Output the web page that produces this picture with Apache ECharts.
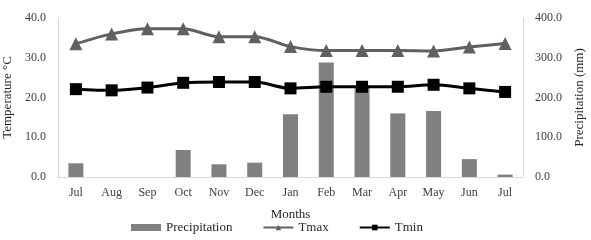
<!DOCTYPE html>
<html><head><meta charset="utf-8">
<script src="https://cdn.jsdelivr.net/npm/echarts@6/dist/echarts.min.js"></script>
<style>html,body{margin:0;padding:0;background:#fff}#c{width:591px;height:240px}</style>
</head><body><div id="c"></div>
<script>
var months = ['Jul','Aug','Sep','Oct','Nov','Dec','Jan','Feb','Mar','Apr','May','Jun','Jul'];
var precipitation = [34.5, 0, 0, 68, 32, 36, 158, 288, 226, 160, 166, 45, 6];
var tmax = [33.5, 36.0, 37.3, 37.3, 35.3, 35.3, 32.8, 31.8, 31.8, 31.8, 31.7, 32.7, 33.6];
var tmin = [22.1, 21.8, 22.5, 23.7, 23.9, 23.9, 22.3, 22.7, 22.7, 22.7, 23.2, 22.3, 21.4];

var font = '"Liberation Serif", "Times New Roman", serif';
var txt = '#404040';
var chart = echarts.init(document.getElementById('c'), null, {renderer:'canvas'});
chart.setOption({
  animation:false,
  textStyle:{fontFamily:font},
  grid:{left:58, right:68, top:18, bottom:63, containLabel:false, outerBoundsMode:'none'},
  xAxis:{type:'category', data:months, boundaryGap:true,
    name:'Months', nameLocation:'middle', nameGap:31,
    nameTextStyle:{fontFamily:font, fontSize:13, color:'#262626'},
    axisLine:{lineStyle:{color:'#d9d9d9'}}, axisTick:{show:false},
    axisLabel:{fontFamily:font, fontSize:12, color:txt, margin:10, interval:0}},
  yAxis:[
    {type:'value', min:0, max:40, interval:10, position:'left',
     name:'Temperature °C', nameLocation:'middle', nameGap:40, nameRotate:90,
     nameTextStyle:{fontFamily:font, fontSize:13, color:'#262626'},
     axisLine:{show:true, lineStyle:{color:'#d9d9d9'}}, axisTick:{show:false}, splitLine:{show:false},
     axisLabel:{fontFamily:font, fontSize:12, color:txt, margin:12, formatter:function(v){return v.toFixed(1);}}},
    {type:'value', min:0, max:400, interval:100, position:'right',
     name:'Precipitation (mm)', nameLocation:'middle', nameGap:48, nameRotate:90,
     nameTextStyle:{fontFamily:font, fontSize:13, color:'#262626'},
     axisLine:{show:true, lineStyle:{color:'#d9d9d9'}}, axisTick:{show:false}, splitLine:{show:false},
     axisLabel:{fontFamily:font, fontSize:12, color:txt, margin:12, formatter:function(v){return v.toFixed(1);}}}
  ],
  legend:{top:221, left:131, padding:0, itemGap:30, itemWidth:30, itemHeight:7,
    textStyle:{fontFamily:font, fontSize:13, color:'#262626'},
    data:[{name:'Precipitation', icon:'rect'},{name:'Tmax'},{name:'Tmin'}]},
  series:[
    {name:'Precipitation', type:'bar', yAxisIndex:1, data:precipitation, barWidth:'42%',
     itemStyle:{color:'#808080'}, z:1},
    {name:'Tmax', type:'line', yAxisIndex:0, data:tmax, smooth:0.3,
     symbol:'triangle', symbolSize:13, lineStyle:{color:'#606060', width:3},
     itemStyle:{color:'#606060'}, z:3},
    {name:'Tmin', type:'line', yAxisIndex:0, data:tmin, smooth:0.3,
     symbol:'rect', symbolSize:12, lineStyle:{color:'#000', width:3},
     itemStyle:{color:'#000'}, z:4}
  ]
});
</script></body></html>
